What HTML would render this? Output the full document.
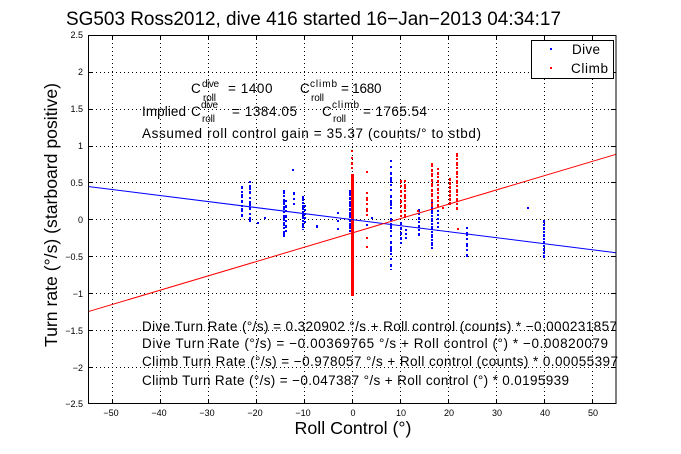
<!DOCTYPE html>
<html><head><meta charset="utf-8"><style>
html,body{margin:0;padding:0;background:#fff;}
svg{display:block;}
text{font-family:"Liberation Sans",Arial,sans-serif;fill:#000;}
</style></head><body>
<svg width="681" height="454" viewBox="0 0 681 454" xmlns="http://www.w3.org/2000/svg">
<rect x="0" y="0" width="681" height="454" fill="#fff"/>
<!-- grid -->
<g stroke="#000" stroke-width="1" stroke-dasharray="1 3" shape-rendering="crispEdges">
<line x1="112.5" y1="35" x2="112.5" y2="404"/>
<line x1="160.5" y1="35" x2="160.5" y2="404"/>
<line x1="208.5" y1="35" x2="208.5" y2="404"/>
<line x1="256.5" y1="35" x2="256.5" y2="404"/>
<line x1="304.5" y1="35" x2="304.5" y2="404"/>
<line x1="352.5" y1="35" x2="352.5" y2="404"/>
<line x1="400.5" y1="35" x2="400.5" y2="404"/>
<line x1="448.5" y1="35" x2="448.5" y2="404"/>
<line x1="496.5" y1="35" x2="496.5" y2="404"/>
<line x1="544.5" y1="35" x2="544.5" y2="404"/>
<line x1="592.5" y1="35" x2="592.5" y2="404"/>
<line x1="88" y1="72.5" x2="616" y2="72.5"/>
<line x1="88" y1="109.5" x2="616" y2="109.5"/>
<line x1="88" y1="146.5" x2="616" y2="146.5"/>
<line x1="88" y1="182.5" x2="616" y2="182.5"/>
<line x1="88" y1="219.5" x2="616" y2="219.5"/>
<line x1="88" y1="256.5" x2="616" y2="256.5"/>
<line x1="88" y1="293.5" x2="616" y2="293.5"/>
<line x1="88" y1="330.5" x2="616" y2="330.5"/>
<line x1="88" y1="367.5" x2="616" y2="367.5"/>
</g>
<!-- blue dive points -->
<g stroke="#0000ff" stroke-width="2" shape-rendering="crispEdges">
<line x1="242" y1="186" x2="242" y2="217" stroke-dasharray="3 2 2 1 4 2"/>
<line x1="250" y1="181" x2="250" y2="222" stroke-dasharray="2 2 5 1 3 3"/>
<line x1="284" y1="190" x2="284" y2="238" stroke-dasharray="4 1 2 2 6 1"/>
<line x1="286" y1="200" x2="286" y2="232" stroke-dasharray="2 3 3 2"/>
<line x1="303" y1="196" x2="303" y2="230" stroke-dasharray="5 1 2 1"/>
<line x1="305" y1="205" x2="305" y2="225" stroke-dasharray="2 2"/>
<line x1="350" y1="190" x2="350" y2="232" stroke-dasharray="6 1 3 1"/>
<line x1="391" y1="166" x2="391" y2="270" stroke-dasharray="2 4 3 2 6 1 2 3"/>
<line x1="401" y1="222" x2="401" y2="244" stroke-dasharray="3 2"/>
<line x1="406" y1="229" x2="406" y2="241" stroke-dasharray="2 2"/>
<line x1="419" y1="209" x2="419" y2="236" stroke-dasharray="3 1 2 2"/>
<line x1="432" y1="202" x2="432" y2="250" stroke-dasharray="4 1 2 1"/>
<line x1="438" y1="210" x2="438" y2="231" stroke-dasharray="2 2"/>
<line x1="467" y1="227" x2="467" y2="257" stroke-dasharray="2 3 4 2"/>
<line x1="544" y1="220" x2="544" y2="258" stroke-dasharray="3 1 2 1"/>
</g>
<g fill="#0000ff" shape-rendering="crispEdges">
<rect x="292" y="169" width="2" height="2"/>
<rect x="293" y="192" width="2" height="3"/>
<rect x="293" y="198" width="2" height="2"/>
<rect x="293" y="203" width="2" height="2"/>
<rect x="264" y="217" width="2" height="2"/>
<rect x="257" y="222" width="2" height="2"/>
<rect x="316" y="225" width="2" height="3"/>
<rect x="337" y="212" width="2" height="2"/>
<rect x="337" y="220" width="2" height="2"/>
<rect x="337" y="228" width="2" height="2"/>
<rect x="366" y="224" width="2" height="2"/>
<rect x="371" y="217" width="2" height="2"/>
<rect x="527" y="207" width="2" height="2"/>
<rect x="390" y="160" width="2" height="2"/>
</g>
<!-- red climb points -->
<g stroke="#ff0000" stroke-width="2" shape-rendering="crispEdges">
<line x1="352" y1="150" x2="352" y2="174" stroke-dasharray="2 5 2 3 3 2"/>
<line x1="367" y1="192" x2="367" y2="218" stroke-dasharray="2 3 4 2"/>
<line x1="401" y1="180" x2="401" y2="220" stroke-dasharray="3 2 2 3"/>
<line x1="405" y1="180" x2="405" y2="218" stroke-dasharray="2 2 5 1"/>
<line x1="432" y1="163" x2="432" y2="210" stroke-dasharray="4 2 3 1"/>
<line x1="438" y1="168" x2="438" y2="207" stroke-dasharray="2 2 3 1"/>
<line x1="450" y1="178" x2="450" y2="205" stroke-dasharray="3 1"/>
<line x1="457" y1="153" x2="457" y2="210" stroke-dasharray="4 1 2 2"/>
</g>
<g fill="#ff0000" shape-rendering="crispEdges">
<rect x="351" y="174" width="3" height="122"/>
<rect x="366" y="171" width="2" height="2"/>
<rect x="366" y="237" width="2" height="2"/>
<rect x="366" y="246" width="2" height="2"/>
<rect x="417" y="210" width="2" height="2"/>
<rect x="442" y="207" width="2" height="2"/>
<rect x="457" y="228" width="2" height="2"/>
</g>
<!-- regression lines -->
<line x1="88" y1="186.5" x2="616" y2="252.7" stroke="#0000ff" stroke-width="1"/>
<line x1="88" y1="311.7" x2="616" y2="154.3" stroke="#ff0000" stroke-width="1"/>
<!-- axes box and ticks -->
<g stroke="#000" stroke-width="1" shape-rendering="crispEdges" fill="none">
<rect x="88.5" y="35.5" width="527.5" height="368"/>
<path d="M112.5 404v-5M160.5 404v-5M208.5 404v-5M256.5 404v-5M304.5 404v-5M352.5 404v-5M400.5 404v-5M448.5 404v-5M496.5 404v-5M544.5 404v-5M592.5 404v-5
M112.5 35v5M160.5 35v5M208.5 35v5M256.5 35v5M304.5 35v5M352.5 35v5M400.5 35v5M448.5 35v5M496.5 35v5M544.5 35v5M592.5 35v5
M88 72.5h5M88 109.5h5M88 146.5h5M88 182.5h5M88 219.5h5M88 256.5h5M88 293.5h5M88 330.5h5M88 367.5h5
M616 72.5h-5M616 109.5h-5M616 146.5h-5M616 182.5h-5M616 219.5h-5M616 256.5h-5M616 293.5h-5M616 330.5h-5M616 367.5h-5"/>
</g>
<!-- y tick labels -->
<g font-size="9" text-anchor="end">
<text x="83" y="38">2.5</text>
<text x="83" y="75">2</text>
<text x="83" y="112">1.5</text>
<text x="83" y="149">1</text>
<text x="83" y="186">0.5</text>
<text x="83" y="223">0</text>
<text x="83" y="260">−0.5</text>
<text x="83" y="297">−1</text>
<text x="83" y="334">−1.5</text>
<text x="83" y="371">−2</text>
<text x="83" y="407">−2.5</text>
</g>
<!-- x tick labels -->
<g font-size="9" text-anchor="middle">
<text x="111" y="416">−50</text>
<text x="159" y="416">−40</text>
<text x="207" y="416">−30</text>
<text x="255" y="416">−20</text>
<text x="303" y="416">−10</text>
<text x="353" y="416">0</text>
<text x="401" y="416">10</text>
<text x="449" y="416">20</text>
<text x="497" y="416">30</text>
<text x="545" y="416">40</text>
<text x="593" y="416">50</text>
</g>
<!-- title and axis labels -->
<text x="66" y="25" font-size="19.5" textLength="495" lengthAdjust="spacingAndGlyphs">SG503 Ross2012, dive 416 started 16−Jan−2013 04:34:17</text>
<text x="353" y="434" font-size="17.6" text-anchor="middle" textLength="117" lengthAdjust="spacingAndGlyphs">Roll Control (°)</text>
<text transform="translate(57,215) rotate(-90)" font-size="17.6" text-anchor="middle" textLength="264" lengthAdjust="spacingAndGlyphs">Turn rate (°/s) (starboard positive)</text>
<!-- top annotations -->
<g font-size="13.5">
<text x="191" y="93">C</text>
<text x="202" y="87" font-size="10" textLength="17">dive</text>
<text x="203" y="101" font-size="10" textLength="13">roll</text>
<text x="228" y="93" textLength="44.5">= 1400</text>
<text x="300" y="93">C</text>
<text x="310" y="87" font-size="10" textLength="27">climb</text>
<text x="311" y="101" font-size="10" textLength="13">roll</text>
<text x="341" y="93" textLength="40.5">= 1680</text>

<text x="142" y="116" textLength="44">Implied</text>
<text x="191" y="116">C</text>
<text x="201" y="108" font-size="10" textLength="17">dive</text>
<text x="202" y="122" font-size="10" textLength="13">roll</text>
<text x="232" y="116" textLength="65">= 1384.05</text>
<text x="322" y="116">C</text>
<text x="332" y="108" font-size="10" textLength="27">climb</text>
<text x="333" y="122" font-size="10" textLength="13">roll</text>
<text x="363" y="116" textLength="64">= 1765.54</text>

<text x="142" y="138" textLength="339">Assumed roll control gain = 35.37 (counts/° to stbd)</text>
</g>
<!-- bottom annotations -->
<g font-size="13.5">
<text x="142" y="331" textLength="475">Dive Turn Rate (°/s) = 0.320902 °/s + Roll control (counts) * −0.000231857</text>
<text x="142" y="348" textLength="466">Dive Turn Rate (°/s) = −0.00369765 °/s + Roll control (°) * −0.00820079</text>
<text x="142" y="366" textLength="476">Climb Turn Rate (°/s) = −0.978057 °/s + Roll control (counts) * 0.00055397</text>
<text x="142" y="385" textLength="427">Climb Turn Rate (°/s) = −0.047387 °/s + Roll control (°) * 0.0195939</text>
</g>
<!-- legend -->
<rect x="531.5" y="40.5" width="82" height="38" fill="#fff" stroke="#000" stroke-width="1" shape-rendering="crispEdges"/>
<rect x="550" y="48" width="2" height="2" fill="#0000ff"/>
<rect x="550" y="67" width="2" height="2" fill="#ff0000"/>
<text x="572" y="54" font-size="13.5" textLength="28">Dive</text>
<text x="571" y="73" font-size="13.5" textLength="37">Climb</text>
</svg>
</body></html>
